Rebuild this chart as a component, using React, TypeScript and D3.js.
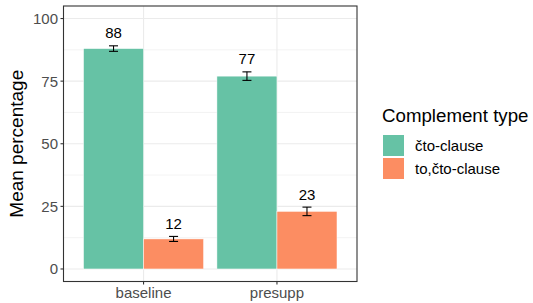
import { useEffect, useRef } from 'react';
import * as d3 from 'd3';

// data
const conditions = ["baseline", "presupp"];
const complementTypes = ["čto-clause", "to,čto-clause"];
const meanCto = [88, 77];
const meanToCto = [12, 23];
const seCto = [1.1, 1.7];
const seToCto = [1.0, 1.7];
const yTicks = [0, 25, 50, 75, 100];
const colors = ["#66C2A5", "#FC8D62"];

export default function App() {
    const ref = useRef<SVGSVGElement>(null);

    useEffect(() => {
        const width = 533;
        const height = 303;
        const margin = { left: 63.5, right: 176, top: 6, bottom: 21.5 };
        const font = "'Liberation Sans', Arial, Helvetica, sans-serif";

        const svg = d3.select(ref.current);
        svg.selectAll("*").remove();
        svg.attr("width", width).attr("height", height);

        const rows: { cond: string; type: string; mean: number; se: number; i: number }[] = [];
        conditions.forEach((c, ci) => {
            rows.push({ cond: c, type: complementTypes[0], mean: meanCto[ci], se: seCto[ci], i: 0 });
            rows.push({ cond: c, type: complementTypes[1], mean: meanToCto[ci], se: seToCto[ci], i: 1 });
        });

        const x0 = margin.left;
        const x1 = width - margin.right;
        const yTop = margin.top;
        const yBot = height - margin.bottom;

        // ggplot-style discrete axis: domain 0.4 .. 2.6
        const x = d3.scaleLinear().domain([0.4, 2.6]).range([x0, x1]);
        const y = d3.scaleLinear().domain([-5, 105]).range([yBot, yTop]);
        const barW = x(1.45) - x(1);

        const g = svg.append("g");

        // panel background + grid
        g.append("rect")
            .attr("x", x0).attr("y", yTop)
            .attr("width", x1 - x0).attr("height", yBot - yTop)
            .attr("fill", "white");

        const minor = [12.5, 37.5, 62.5, 87.5];
        g.selectAll(".minor").data(minor).enter().append("line")
            .attr("x1", x0).attr("x2", x1)
            .attr("y1", (d) => y(d)).attr("y2", (d) => y(d))
            .attr("stroke", "#EBEBEB").attr("stroke-width", 0.6);
        g.selectAll(".major").data(yTicks).enter().append("line")
            .attr("x1", x0).attr("x2", x1)
            .attr("y1", (d) => y(d)).attr("y2", (d) => y(d))
            .attr("stroke", "#EBEBEB").attr("stroke-width", 1.1);
        g.selectAll(".vmajor").data(conditions).enter().append("line")
            .attr("x1", (d, i) => x(i + 1)).attr("x2", (d, i) => x(i + 1))
            .attr("y1", yTop).attr("y2", yBot)
            .attr("stroke", "#EBEBEB").attr("stroke-width", 1.1);

        // bars
        const cx = (d: any) => x(conditions.indexOf(d.cond) + 1) + (d.i === 0 ? -barW / 2 : barW / 2);
        g.selectAll(".bar").data(rows).enter().append("rect")
            .attr("x", (d) => cx(d) - barW / 2)
            .attr("y", (d) => y(d.mean))
            .attr("width", barW)
            .attr("height", (d) => y(0) - y(d.mean))
            .attr("fill", (d) => colors[d.i])
            .attr("stroke", "white").attr("stroke-width", 0.5);

        // error bars
        const capW = 4.5;
        const eb = g.selectAll(".eb").data(rows).enter().append("g")
            .attr("stroke", "black").attr("stroke-width", 1.1);
        eb.append("line")
            .attr("x1", (d) => cx(d)).attr("x2", (d) => cx(d))
            .attr("y1", (d) => y(d.mean + d.se)).attr("y2", (d) => y(d.mean - d.se));
        eb.append("line")
            .attr("x1", (d) => cx(d) - capW).attr("x2", (d) => cx(d) + capW)
            .attr("y1", (d) => y(d.mean + d.se)).attr("y2", (d) => y(d.mean + d.se));
        eb.append("line")
            .attr("x1", (d) => cx(d) - capW).attr("x2", (d) => cx(d) + capW)
            .attr("y1", (d) => y(d.mean - d.se)).attr("y2", (d) => y(d.mean - d.se));

        // value labels
        g.selectAll(".lab").data(rows).enter().append("text")
            .attr("x", (d) => cx(d))
            .attr("y", (d) => y(d.mean + d.se + 3))
            .attr("text-anchor", "middle")
            .style("font-family", font).style("font-size", "15px")
            .attr("fill", "black")
            .text((d) => d.mean);

        // panel border
        g.append("rect")
            .attr("x", x0).attr("y", yTop)
            .attr("width", x1 - x0).attr("height", yBot - yTop)
            .attr("fill", "none").attr("stroke", "#333333").attr("stroke-width", 1.1);

        // y axis
        g.selectAll(".ytick").data(yTicks).enter().append("line")
            .attr("x1", x0 - 3).attr("x2", x0)
            .attr("y1", (d) => y(d)).attr("y2", (d) => y(d))
            .attr("stroke", "#333333").attr("stroke-width", 1.1);
        g.selectAll(".ylab").data(yTicks).enter().append("text")
            .attr("x", x0 - 5.5)
            .attr("y", (d) => y(d))
            .attr("dy", "0.36em")
            .attr("text-anchor", "end")
            .style("font-family", font).style("font-size", "15px")
            .attr("fill", "#4D4D4D")
            .text((d) => d);

        // x axis
        g.selectAll(".xtick").data(conditions).enter().append("line")
            .attr("x1", (d, i) => x(i + 1)).attr("x2", (d, i) => x(i + 1))
            .attr("y1", yBot).attr("y2", yBot + 3)
            .attr("stroke", "#333333").attr("stroke-width", 1.1);
        g.selectAll(".xlab").data(conditions).enter().append("text")
            .attr("x", (d, i) => x(i + 1))
            .attr("y", yBot + 16)
            .attr("text-anchor", "middle")
            .style("font-family", font).style("font-size", "15px")
            .attr("fill", "#4D4D4D")
            .text((d) => d);

        // y axis title
        g.append("text")
            .attr("transform", "translate(23," + ((yTop + yBot) / 2) + ") rotate(-90)")
            .attr("text-anchor", "middle")
            .style("font-family", font).style("font-size", "19px")
            .attr("fill", "black")
            .text("Mean percentage");

        // legend
        const lx = 382;
        g.append("text")
            .attr("x", lx).attr("y", 122)
            .style("font-family", font).style("font-size", "18.7px")
            .attr("fill", "black")
            .text("Complement type");
        const leg = g.selectAll(".leg").data(complementTypes).enter().append("g")
            .attr("transform", (d, i) => "translate(" + lx + "," + (134 + i * 23) + ")");
        leg.append("rect")
            .attr("x", 0.5).attr("y", 0.5)
            .attr("width", 22).attr("height", 22)
            .attr("fill", (d, i) => colors[i])
            .attr("stroke", "white").attr("stroke-width", 1);
        leg.append("text")
            .attr("x", 33).attr("y", 11.5)
            .attr("dy", "0.36em")
            .style("font-family", font).style("font-size", "15px")
            .attr("fill", "black")
            .text((d) => d);
    }, []);

    return (
        <svg ref={ref} style={{ position: "absolute", left: 0, top: 0 }}></svg>
    );
}
